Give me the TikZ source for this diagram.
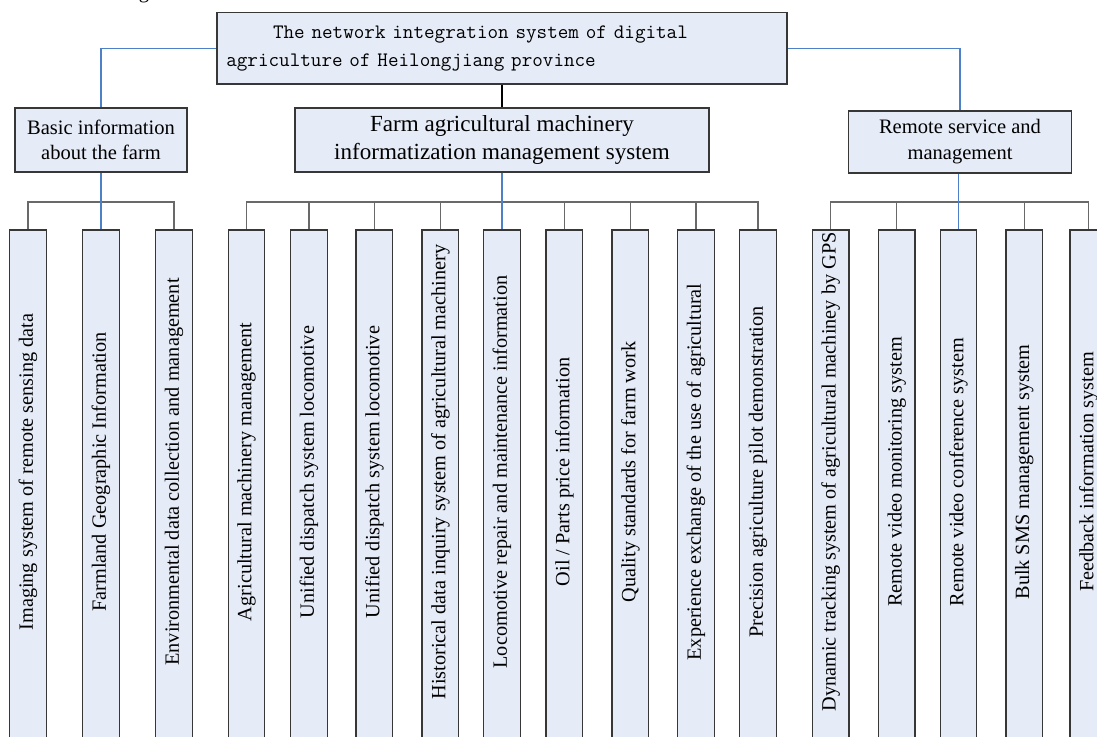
\documentclass[tikz,border=0pt]{standalone}
\usepackage{fontspec}
\setmainfont{Liberation Serif}
\definecolor{boxfill}{RGB}{230,236,247}
\definecolor{boxline}{RGB}{55,55,55}
\definecolor{conn}{RGB}{105,105,105}
\definecolor{blueconn}{RGB}{78,128,200}
\tikzset{
  box/.style={draw=boxline, fill=boxfill, line width=0.9pt, inner sep=0pt, align=center},
  leafbox/.style={box, minimum width=27.4pt, minimum height=400pt, anchor=north},
  leaftext/.style={rotate=90, font=\fontsize{15.2}{18}\selectfont, inner sep=0pt},
  gline/.style={draw=conn, line width=1pt},
  bline/.style={draw=blueconn, line width=0.9pt},
  kline/.style={draw=black, line width=0.8pt},
}
\newcommand\myleaf[3]{%
  \node[leafbox] (#1) at (#2,229.5) {};
  \node[leaftext] (#1t) at (#2,472) {#3};}
\begin{document}
\begin{tikzpicture}[x=0.75pt,y=-0.75pt]
\useasboundingbox (0,0) rectangle (1097,737);
\node[font=\fontsize{15.4}{18}\selectfont, anchor=base, inner sep=0pt] (frag) at (144,-1.5) {g};
% main boxes
\node[box, align=left, text width=413.5pt, inner xsep=7pt, minimum height=53.6pt,
      font=\ttfamily\fontsize{15.4}{21}\selectfont] (top) at (502,48.25)
  {\hspace*{35pt}The network integration system of digital\\agriculture of Heilongjiang province};
\node[box, minimum width=129pt, minimum height=48pt, font=\fontsize{15.4}{18.75}\selectfont]
  (basic) at (101,140) {Basic information\\about the farm};
\node[box, minimum width=310.5pt, minimum height=48pt, font=\fontsize{17.3}{21}\selectfont]
  (farm) at (502,140) {Farm agricultural machinery\\informatization management system};
\node[box, minimum width=167.25pt, minimum height=46.5pt, font=\fontsize{15.4}{19.5}\selectfont]
  (remote) at (960,142) {Remote service and\\management};
% leaves
\myleaf{b1}{28}{Imaging system of remote sensing data}
\myleaf{b2}{101}{Farmland Geographic Information}
\myleaf{b3}{174}{Environmental data collection and management}
\myleaf{f1}{246.6}{Agricultural machinery management}
\myleaf{f2}{309}{Unified dispatch system locomotive}
\myleaf{f3}{374.3}{Unified dispatch system locomotive}
\myleaf{f4}{440.3}{Historical data inquiry system of agricultural machinery}
\myleaf{f5}{502}{Locomotive repair and maintenance information}
\myleaf{f6}{564.3}{Oil / Parts price information}
\myleaf{f7}{630.3}{Quality standards for farm work}
\myleaf{f8}{696}{Experience exchange of the use of agricultural}
\myleaf{f9}{758}{Precision agriculture pilot demonstration}
\myleaf{r1}{830.7}{Dynamic tracking system of agricultural machiney by GPS}
\myleaf{r2}{896.7}{Remote video monitoring system}
\myleaf{r3}{958.5}{Remote video conference system}
\myleaf{r4}{1024.3}{Bulk SMS management system}
\myleaf{r5}{1088.3}{Feedback information system}
% buses
\coordinate (bus) at (0,202);
\draw[gline] (b1.north) -- (b1.north |- bus) -- (b3.north |- bus) -- (b3.north);
\draw[gline] (f1.north) -- (f1.north |- bus) -- (f9.north |- bus) -- (f9.north);
\foreach \n in {f2,f3,f4,f6,f7,f8}{\draw[gline] (\n.north) -- (\n.north |- bus);}
\draw[gline] (r1.north) -- (r1.north |- bus) -- (r5.north |- bus) -- (r5.north);
\foreach \n in {r2,r4}{\draw[gline] (\n.north) -- (\n.north |- bus);}
% top connectors
\draw[bline] (top.west) -| (basic.north);
\draw[bline] (top.east) -| (remote.north);
\draw[kline] (top.south) -- (farm.north);
\draw[bline] (basic.south) -- (b2.north);
\draw[bline] (farm.south) -- (f5.north);
\draw[bline] (r3.north) -- (r3.north |- remote.south);
\end{tikzpicture}
\end{document}
